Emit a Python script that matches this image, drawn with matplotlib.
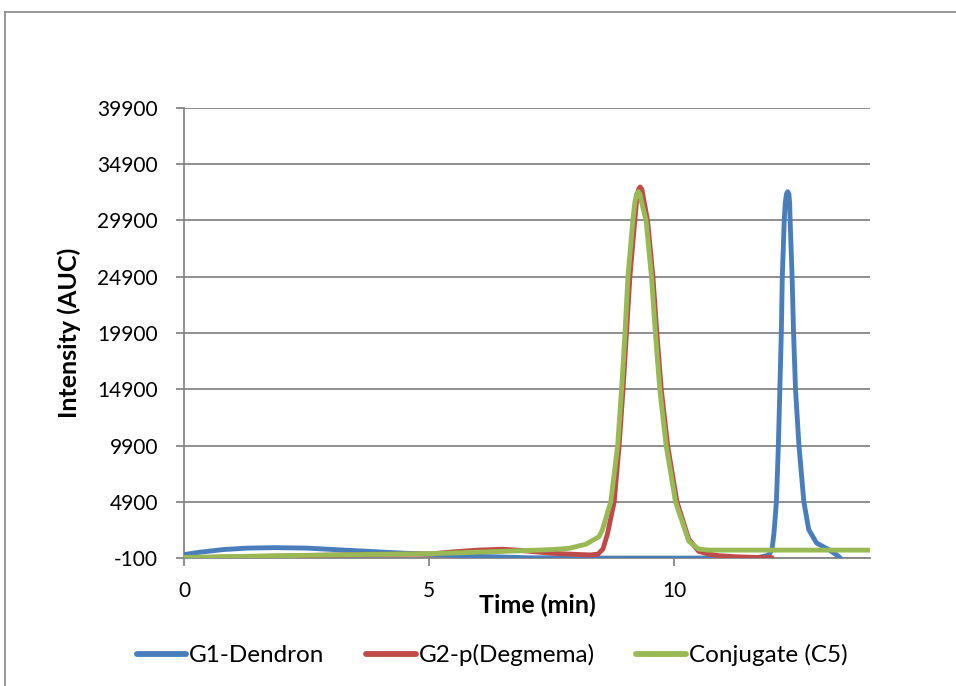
import matplotlib
matplotlib.use("Agg")
import matplotlib.pyplot as plt
from matplotlib.lines import Line2D

plt.rcParams['font.family'] = ['Lato', 'DejaVu Sans']
plt.rcParams['axes.unicode_minus'] = False

# Retention time (min) and detector response for each sample
g1_time = [0.0, 0.3, 0.8, 1.3, 1.85, 2.5, 3.2, 4.15, 5.0, 6.0, 7.0, 8.0, 9.0,
           10.0, 11.0, 11.7, 11.93, 12.0, 12.04, 12.09, 12.13, 12.16, 12.19,
           12.21, 12.25, 12.27, 12.295, 12.32, 12.345, 12.36, 12.37, 12.41,
           12.44, 12.48, 12.55, 12.65, 12.75, 12.91, 13.16, 13.36, 13.44]
g1_int = [200, 400, 650, 780, 820, 780, 620, 400, 230, 50, -80, -100, -110,
          -110, -100, -80, 150, 640, 2100, 4900, 9900, 14900, 19900,
          24900, 29900, 31460, 32250, 32460, 32250, 31460, 29900, 24900,
          19900, 14900, 9900, 4900, 2420, 1230, 640, 40, -350]

g2_time = [0.0, 1.0, 2.0, 3.0, 4.0, 5.0, 5.5, 6.0, 6.5, 6.85, 7.5, 8.0, 8.3,
           8.45, 8.55, 8.64, 8.78, 8.88, 8.96, 9.03, 9.1, 9.2, 9.24, 9.275,
           9.31, 9.345, 9.38, 9.46, 9.57, 9.65, 9.74, 9.87, 10.06, 10.3, 10.5,
           10.7, 10.92, 11.3, 11.6, 12.0]
g2_int = [-100, 0, 80, 160, 220, 250, 450, 600, 680, 580, 320, 220, 170,
          250, 700, 2000, 4900, 9900, 14900, 19900, 24900, 29900, 31800, 32650,
          32880, 32650, 31800, 29900, 24900, 19900, 14900, 9900, 4900, 1600, 500,
          250, 100, 0, -40, -60]

c5_time = [0.0, 1.0, 2.0, 3.0, 4.0, 5.0, 6.0, 6.95, 7.5, 7.86, 8.2, 8.47,
           8.54, 8.71, 8.85, 8.93, 9.0, 9.06, 9.16, 9.2, 9.235, 9.27, 9.305,
           9.34, 9.43, 9.54, 9.62, 9.71, 9.84, 10.03, 10.3, 10.5, 10.7, 14.0]
c5_int = [-50, 30, 100, 170, 230, 280, 420, 550, 650, 760, 1120, 1790,
          2420, 4900, 9900, 14900, 19900, 24900, 29900, 31500, 32250, 32460, 32250,
          31500, 29900, 24900, 19900, 14900, 9900, 4900, 1400, 700, 600, 600]

series_names = ["G1-Dendron", "G2-p(Degmema)", "Conjugate (C5)"]
series_colors = ["#4A7EBB", "#BE4B48", "#98B954"]

y_ticks = list(range(-100, 39901, 5000))
x_ticks = [0, 5, 10]

fig = plt.figure(figsize=(9.56, 6.86), dpi=100)
ax = fig.add_axes([184 / 956, 1 - 558 / 686, (870 - 184) / 956, (558 - 108) / 686])

for t, v, name, col in zip([g1_time, g2_time, c5_time],
                           [g1_int, g2_int, c5_int],
                           series_names, series_colors):
    ax.plot(t, v, color=col, lw=3.5, label=name, solid_capstyle='round',
            solid_joinstyle='round', zorder=3)

ax.set_xlim(0, 14)
ax.set_ylim(-100, 39900)
ax.set_yticks(y_ticks)
ax.set_xticks(x_ticks)
ax.yaxis.grid(True, color="#868686", lw=1.3)
ax.set_axisbelow(True)

for s in ["top", "right"]:
    ax.spines[s].set_visible(False)
for s in ["left", "bottom"]:
    ax.spines[s].set_color("#868686")
    ax.spines[s].set_linewidth(1.3)

ax.tick_params(axis='both', colors="#868686", width=1.3, length=5.8,
               labelcolor="black", labelsize=15, direction='out')
ax.tick_params(axis='y', pad=13)
ax.tick_params(axis='x', pad=11)

ax.set_xlabel("Time (min)", fontsize=18, fontweight='bold')
ax.xaxis.set_label_coords((537 - 184) / 686, -36 / 450)
ax.set_ylabel("Intensity (AUC)", fontsize=18, fontweight='bold')
ax.yaxis.set_label_coords(-103 / 686, 0.5)

handles = [Line2D([0], [0], color=c, lw=4.2, solid_capstyle='round')
           for c in series_colors]
fig.legend(handles, series_names, loc='center', bbox_to_anchor=(492 / 956, 1 - 655 / 686),
           ncol=3, frameon=False, fontsize=17.5, handlelength=2.05,
           handletextpad=0.12, columnspacing=1.7)

# chart frame
frame_col = "#888888"
fig.add_artist(Line2D([5 / 956, 5 / 956], [0, 1 - 12 / 686], color=frame_col,
                      lw=1.2, transform=fig.transFigure))
fig.add_artist(Line2D([5 / 956, 1], [1 - 12 / 686, 1 - 12 / 686], color=frame_col,
                      lw=1.2, transform=fig.transFigure))

fig.savefig("out.png", dpi=100, facecolor="white")
